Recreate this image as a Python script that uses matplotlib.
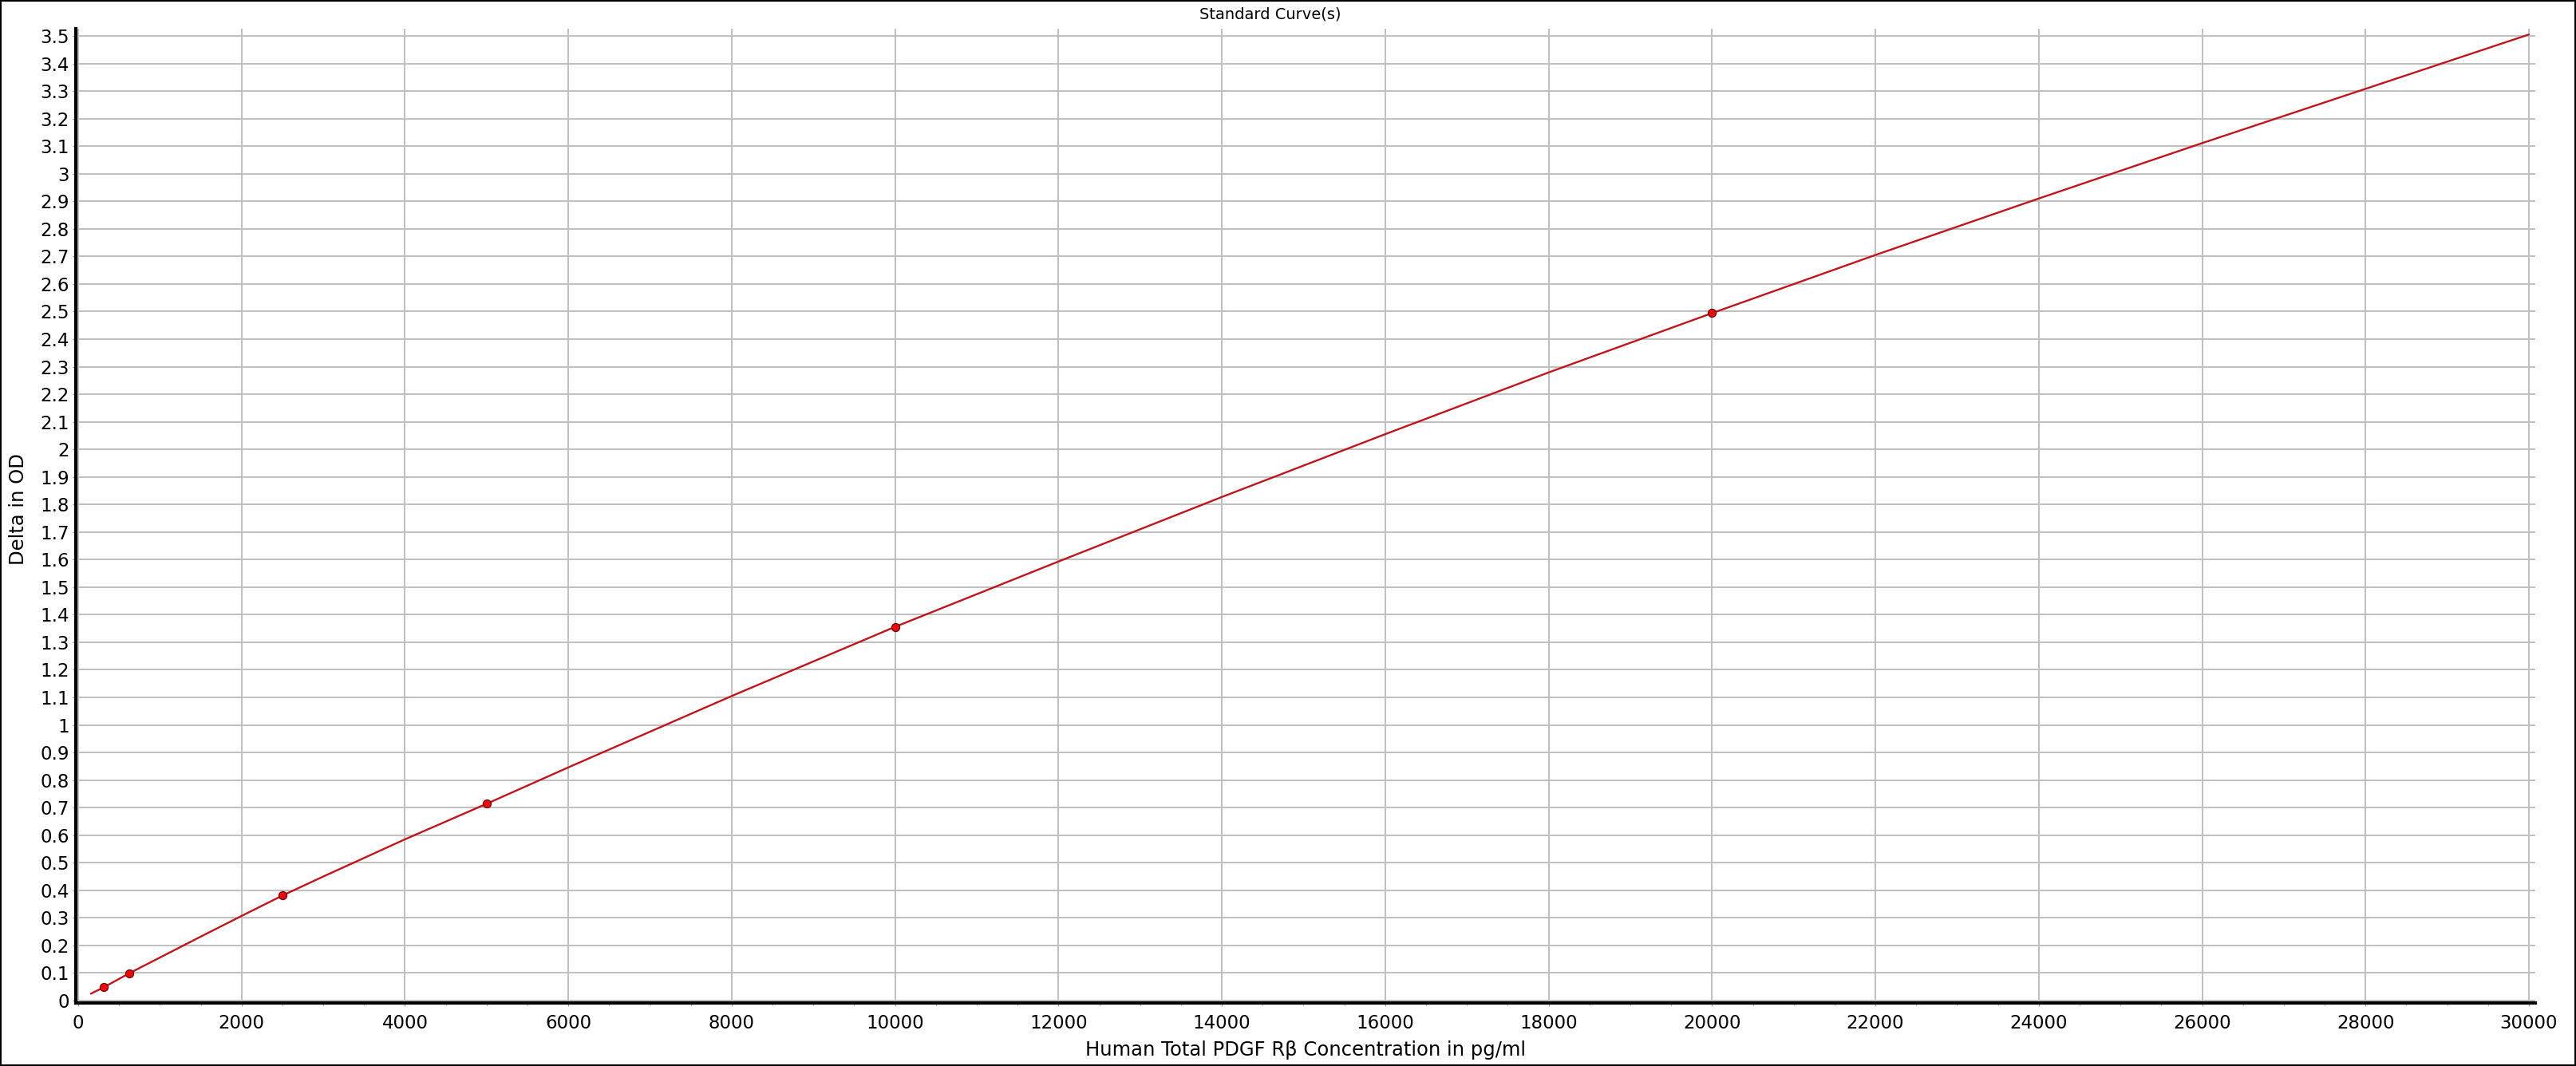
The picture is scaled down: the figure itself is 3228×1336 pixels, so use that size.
import matplotlib
matplotlib.use('Agg')
import matplotlib.pyplot as plt
from matplotlib.ticker import MultipleLocator, FixedLocator, FuncFormatter
from matplotlib.patches import Rectangle

# ---- data ----
std_conc = [312.5, 625, 2500, 5000, 10000, 20000]
std_od = [0.048, 0.099, 0.381, 0.714, 1.356, 2.494]

curve_conc = [156, 312.5, 625, 1000, 1500, 2000, 2500, 3000, 4000, 5000, 6000,
              8000, 10000, 12000, 14000, 16000, 18000, 20000, 22000, 24000,
              26000, 28000, 30000]
curve_od = [0.025, 0.048, 0.099, 0.156, 0.232, 0.307, 0.381, 0.450, 0.585, 0.714,
            0.846, 1.105, 1.356, 1.593, 1.827, 2.055, 2.279, 2.494, 2.705, 2.910,
            3.111, 3.308, 3.505]

x_ticks = list(range(0, 30001, 2000))
y_ticks = [round(0.1 * i, 1) for i in range(36)]

title_text = "Standard Curve(s)"
x_label = "Human Total PDGF R\u03b2 Concentration in pg/ml"
y_label = "Delta in OD"

# ---- figure ----
W, H = 3228, 1336
DPI = 100
plt.rcParams['font.family'] = ['DejaVu Sans']
fig = plt.figure(figsize=(W / DPI, H / DPI), dpi=DPI)
fig.patch.set_facecolor('white')

ax_l, ax_r, ax_t, ax_b = 95, 3177, 36, 1257
ax = fig.add_axes([ax_l / W, (H - ax_b) / H, (ax_r - ax_l) / W, (ax_b - ax_t) / H])

ax.plot(curve_conc, curve_od, color='#c0141c', lw=1.7, zorder=3, solid_capstyle='round')
ax.plot(std_conc, std_od, linestyle='none', marker='o', markersize=7.3,
        markerfacecolor='#ee0a0a', markeredgecolor='#5a0000', markeredgewidth=0.8,
        zorder=4)

ax.set_xlim(-29, 30078)
ax.set_ylim(-0.0087, 3.526)

ax.xaxis.set_major_locator(FixedLocator(x_ticks))
ax.xaxis.set_minor_locator(MultipleLocator(500))
ax.yaxis.set_major_locator(FixedLocator(y_ticks))
ax.yaxis.set_minor_locator(MultipleLocator(0.01))
ax.yaxis.set_major_formatter(FuncFormatter(lambda v, p: '%g' % round(v, 1)))
ax.xaxis.set_major_formatter(FuncFormatter(lambda v, p: '%d' % round(v)))

ax.grid(True, which='major', color='#c0c0c0', linewidth=1.45, zorder=0)
ax.set_axisbelow(True)

for s in ['top', 'right']:
    ax.spines[s].set_visible(False)
for s in ['left', 'bottom']:
    ax.spines[s].set_linewidth(3.0)
    ax.spines[s].set_color('black')
    ax.spines[s].set_zorder(5)

ax.tick_params(axis='x', which='major', direction='out', length=3, width=0.8,
               color='#909090', labelsize=16.5, pad=7, labelcolor='black')
ax.tick_params(axis='x', which='minor', direction='out', length=2.5, width=0.8,
               color='#a0a0a0')
ax.tick_params(axis='y', which='major', direction='out', length=3, width=0.8,
               color='#909090', labelsize=16.5, pad=3, labelcolor='black')
ax.tick_params(axis='y', which='minor', direction='out', length=1.5, width=0.7,
               color='#b0b0b0')

ax.set_xlabel(x_label, fontsize=17.5, color='black')
ax.xaxis.set_label_coords(0.5, (ax_b - 1316) / (ax_b - ax_t))
ax.xaxis.label.set_va('center')

ax.set_ylabel(y_label, fontsize=17.5, color='black')
ax.yaxis.set_label_coords((23 - ax_l) / (ax_r - ax_l), (ax_b - 638) / (ax_b - ax_t))
ax.yaxis.label.set_va('center')

fig.text(1592 / W, 1 - 18 / H, title_text, ha='center', va='center', fontsize=14,
         color='black')

fig.patches.append(Rectangle((0, 0), 1, 1, transform=fig.transFigure, fill=False,
                             edgecolor='black', linewidth=2.9, zorder=10))

fig.savefig('out.png', dpi=DPI, facecolor='white')
